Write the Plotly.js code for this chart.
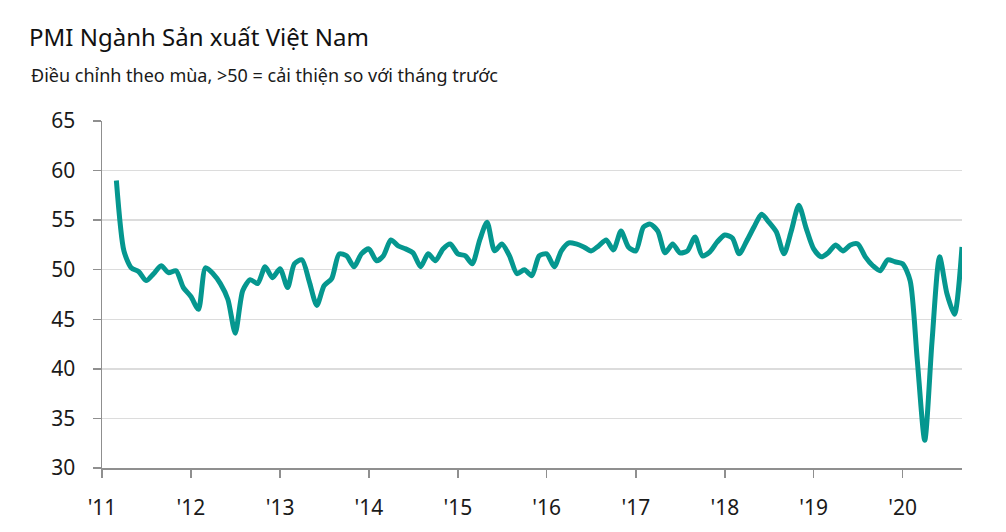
<!DOCTYPE html>
<html>
<head>
<meta charset="utf-8">
<script src="https://cdn.plot.ly/plotly-3.0.1.min.js"></script>
<style>
  html, body { margin: 0; padding: 0; background: #ffffff; }
  #chart { width: 1006px; height: 532px; }
</style>
</head>
<body>
<div id="chart"></div>
<script>
// PMI values, by year (first value of 2011 is March)
const startMonth2011 = 3;
const pmi2011 = [59.0, 51.9, 50.2, 49.8, 48.9, 49.6, 50.4, 49.7, 49.9, 48.2];
const pmi2012 = [47.3, 46.0, 50.2, 49.6, 48.6, 47.0, 43.6, 47.9, 49.0, 48.6, 50.3, 49.2];
const pmi2013 = [50.1, 48.2, 50.6, 51.0, 48.8, 46.4, 48.4, 49.1, 51.6, 51.4, 50.3, 51.6];
const pmi2014 = [52.1, 50.9, 51.4, 53.0, 52.4, 52.1, 51.7, 50.3, 51.6, 50.9, 52.1, 52.6];
const pmi2015 = [51.6, 51.4, 50.6, 53.0, 54.8, 51.9, 52.6, 51.4, 49.6, 50.0, 49.4, 51.4];
const pmi2016 = [51.6, 50.3, 51.9, 52.7, 52.6, 52.3, 51.9, 52.4, 53.0, 52.0, 53.9, 52.3];
const pmi2017 = [51.9, 54.3, 54.6, 53.9, 51.7, 52.6, 51.7, 51.9, 53.3, 51.4, 51.8, 52.8];
const pmi2018 = [53.5, 53.2, 51.6, 52.9, 54.3, 55.6, 54.8, 53.8, 51.6, 53.9, 56.5, 54.2];
const pmi2019 = [52.1, 51.3, 51.7, 52.5, 51.9, 52.5, 52.6, 51.3, 50.4, 49.9, 51.0, 50.8];
const pmi2020 = [50.6, 48.9, 41.0, 32.8, 42.8, 51.3, 47.6, 45.5, 52.3];

const yearlySeries = [
  [2011, pmi2011], [2012, pmi2012], [2013, pmi2013], [2014, pmi2014], [2015, pmi2015],
  [2016, pmi2016], [2017, pmi2017], [2018, pmi2018], [2019, pmi2019], [2020, pmi2020]
];

const tickYears = [2011, 2012, 2013, 2014, 2015, 2016, 2017, 2018, 2019, 2020];
const tickLabels = ["'11", "'12", "'13", "'14", "'15", "'16", "'17", "'18", "'19", "'20"];

const titleText = "PMI Ngành Sản xuất Việt Nam";
const subtitleText = "Điều chỉnh theo mùa, >50 = cải thiện so với tháng trước";

const dates = [];
const values = [];
yearlySeries.forEach(([year, vals]) => {
  const first = (year === 2011) ? startMonth2011 : 1;
  vals.forEach((v, i) => {
    const m = first + i;
    dates.push(year + "-" + String(m).padStart(2, "0") + "-01");
    values.push(v);
  });
});

const FONT = "Noto Sans, DejaVu Sans, sans-serif";
const AXIS_COLOR = "#8f8f8f";

const trace = {
  x: dates,
  y: values,
  type: "scatter",
  mode: "lines",
  line: { color: "#05978f", width: 5, shape: "spline", smoothing: 0.7 },
  hoverinfo: "x+y"
};

const layout = {
  width: 1006,
  height: 532,
  margin: { l: 102, r: 44, t: 121, b: 64 },
  paper_bgcolor: "#ffffff",
  plot_bgcolor: "#ffffff",
  showlegend: false,
  font: { family: FONT, color: "#1a1a1a" },
  title: {
    text: titleText,
    font: { family: FONT, size: 24, color: "#111111" },
    xref: "container", x: 29 / 1006, xanchor: "left",
    yref: "container", y: 1 - 38 / 532, yanchor: "middle"
  },
  annotations: [{
    text: subtitleText,
    xref: "paper", x: (29 - 102) / 860, xanchor: "left",
    yref: "paper", y: (468 - 75) / 347, yanchor: "middle",
    showarrow: false,
    font: { family: FONT, size: 18, color: "#1a1a1a" }
  }],
  xaxis: {
    type: "date",
    range: ["2011-01-01", "2020-09-01"],
    tickmode: "array",
    tickvals: tickYears.map(y => y + "-01-01"),
    ticktext: tickLabels,
    ticks: "outside", ticklen: 8, tickwidth: 1.5, tickcolor: AXIS_COLOR,
    showline: true, linecolor: AXIS_COLOR, linewidth: 1.5,
    showgrid: false, zeroline: false,
    tickfont: { family: FONT, size: 21, color: "#1a1a1a" },
    ticklabelstandoff: 12,
    fixedrange: true
  },
  yaxis: {
    range: [30, 65],
    tickmode: "linear", tick0: 30, dtick: 5,
    ticks: "outside", ticklen: 8, tickwidth: 1.5, tickcolor: AXIS_COLOR,
    showline: true, linecolor: AXIS_COLOR, linewidth: 1.5,
    showgrid: true, gridcolor: "#dcdcdc", gridwidth: 1.5,
    zeroline: false,
    tickfont: { family: FONT, size: 21, color: "#1a1a1a" },
    ticklabelstandoff: 13,
    fixedrange: true
  }
};

Plotly.newPlot("chart", [trace], layout, { displayModeBar: false, staticPlot: true });
</script>
</body>
</html>
